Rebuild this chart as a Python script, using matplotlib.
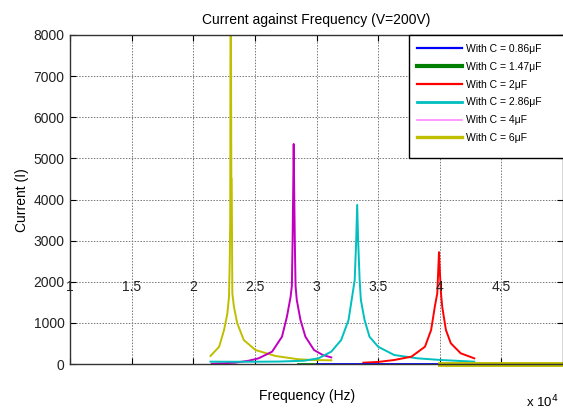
import matplotlib
matplotlib.use("Agg")
import matplotlib.pyplot as plt
from matplotlib.lines import Line2D
from matplotlib.patches import Rectangle

plt.rcParams['font.family'] = ['Liberation Sans', 'DejaVu Sans']

# ---- data (frequency in units of 1e4 Hz, current in A) ----
yellow_f = [2.14, 2.21, 2.25, 2.277, 2.29, 2.296, 2.300, 2.302, 2.306, 2.309, 2.312, 2.317, 2.33, 2.357,
            2.41, 2.505, 2.667, 2.855, 3.0, 3.12]
yellow_i = [195, 420, 827, 1233, 1637, 2500, 3500, 8000, 8000, 4500, 4500, 1720, 1394, 990,
            583, 340, 195, 114, 95, 90]

magenta_f = [2.15, 2.34, 2.45, 2.53, 2.64, 2.72, 2.76, 2.79, 2.80, 2.806, 2.812, 2.815, 2.818, 2.824,
             2.83, 2.84, 2.87, 2.91, 2.98, 3.05, 3.12]
magenta_i = [5, 32, 80, 138, 300, 664, 1150, 1637, 1900, 3000, 4500, 5350, 4500, 3000,
             1900, 1556, 1070, 664, 340, 220, 160]

cyan_f = [2.14, 2.30, 2.50, 2.70, 2.90, 3.016, 3.12, 3.20, 3.26, 3.285, 3.31, 3.322, 3.33, 3.338,
          3.35, 3.36, 3.39, 3.43, 3.50, 3.63, 3.82, 4.01, 4.28]
cyan_i = [57, 55, 55, 60, 80, 138, 300, 583, 1070, 1556, 2040, 3000, 3870, 3000,
          2040, 1556, 1070, 664, 420, 219, 138, 97, 57]

red_f = [3.38, 3.50, 3.63, 3.77, 3.88, 3.93, 3.96, 3.98, 3.988, 3.994, 4.0, 4.01, 4.02, 4.05, 4.09,
         4.17, 4.28]
red_i = [32, 50, 97, 178, 420, 827, 1394, 1720, 2300, 2720, 2300, 1720, 1394, 827, 503,
         260, 138]

blue_f = [3.0, 4.0]
blue_i = [0, 0]

green_f = [2.85, 3.0]
green_i = [0, 0]

yellow_tail_f = [4.0, 5.0]
yellow_tail_i = [0, 0]

x_ticks = [1, 1.5, 2, 2.5, 3, 3.5, 4, 4.5]
x_tick_labels = ['1', '1.5', '2', '2.5', '3', '3.5', '4', '4.5']
y_ticks = [0, 1000, 2000, 3000, 4000, 5000, 6000, 7000, 8000]

legend_labels = ['With C = 0.86\u03bcF', 'With C = 1.47\u03bcF', 'With C = 2\u03bcF',
                 'With C = 2.86\u03bcF', 'With C = 4\u03bcF', 'With C = 6\u03bcF']

# ---- figure ----
W, H = 563, 409
fig = plt.figure(figsize=(W / 100, H / 100), dpi=100)
ax = fig.add_axes([70 / W, 1 - 364 / H, 1 - 70 / W, (364 - 35) / H])

c_yellow = '#bfbf00'
c_magenta = '#bf00bf'
c_cyan = '#00bfbf'
c_red = '#ff0000'
c_blue = '#0000ff'
c_green = '#008000'

ax.plot(yellow_f, yellow_i, color=c_yellow, lw=1.4)
ax.plot(magenta_f, magenta_i, color=c_magenta, lw=1.4)
ax.plot(cyan_f, cyan_i, color=c_cyan, lw=1.4)
ax.plot(red_f, red_i, color=c_red, lw=1.4)
ax.plot(green_f, green_i, color=c_green, lw=2.0)
ax.plot(blue_f, blue_i, color=c_blue, lw=2.0)
ax.plot(yellow_tail_f, yellow_tail_i, color=c_yellow, lw=3.5, clip_on=False)

ax.set_xlim(1, 5)
ax.set_ylim(0, 8000)
ax.set_xticks(x_ticks)
ax.set_xticklabels([])
ax.set_yticks(y_ticks)
ax.set_yticklabels([str(v) for v in y_ticks], fontsize=10, color='#222222')
ax.tick_params(axis='both', direction='in', length=4, width=0.8, top=True, right=True)
ax.tick_params(axis='y', pad=4)
ax.grid(True, linestyle=(0, (1.5, 1.5)), color='#777777', linewidth=0.7)
for s in ax.spines.values():
    s.set_linewidth(1.0)
    s.set_color('#333333')

# x tick labels drawn inside the axes at the 2000 level
for xv, lab in zip(x_ticks, x_tick_labels):
    ax.text(xv, 1880, lab, ha='center', va='center', fontsize=10, color='#222222')

ax.set_title('Current against Frequency (V=200V)', fontsize=10, pad=8)
fig.text(22 / W, 1 - 200 / H, 'Current (I)', rotation=90, ha='center', va='center', fontsize=10)
fig.text(307 / W, 1 - 396 / H, 'Frequency (Hz)', ha='center', va='center', fontsize=10)
fig.text(559 / W, 1 - 402 / H, 'x 10$^{4}$', ha='right', va='center', fontsize=9.5)

# legend box
box = Rectangle((409 / W, 1 - 157.5 / H), (W + 10 - 409) / W, (157.5 - 35) / H,
                transform=fig.transFigure, facecolor='white', edgecolor='black',
                lw=1.0, zorder=5, clip_on=False)
fig.patches.append(box)

handles = [Line2D([], [], color=c_blue, lw=1.6),
           Line2D([], [], color=c_green, lw=3.0),
           Line2D([], [], color=c_red, lw=1.6),
           Line2D([], [], color=c_cyan, lw=2.0),
           Line2D([], [], color='#ff88ff', lw=1.2),
           Line2D([], [], color=c_yellow, lw=2.4)]
leg = fig.legend(handles, legend_labels, loc='upper left',
                 bbox_to_anchor=(417 / W, 1 - 44 / H), frameon=False,
                 fontsize=7.5, handlelength=4.3, handletextpad=0.4,
                 labelspacing=0.75, borderpad=0, borderaxespad=0)
leg.set_zorder(6)

fig.savefig('out.png', dpi=100)
